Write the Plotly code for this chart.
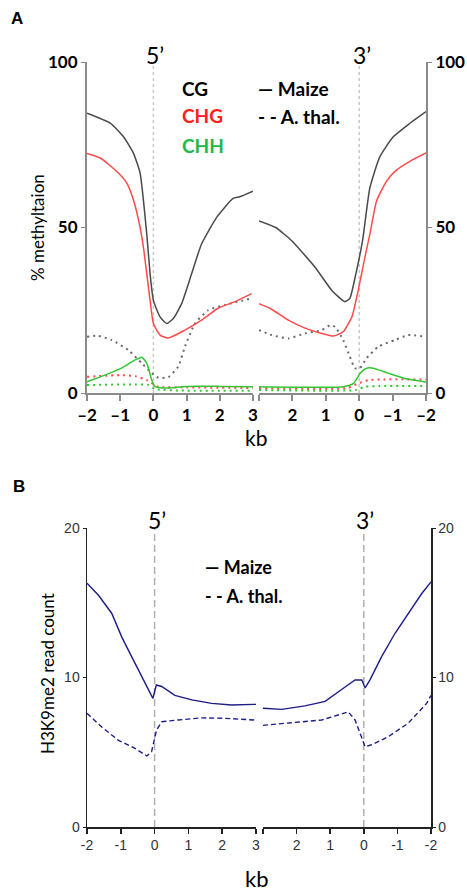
import plotly.graph_objects as go

W, H = 467, 891

# ---------------- Panel A: % methylation ----------------
# 5' side (kb relative to TSS, -2..3)
cg_maize_5_x = [-2, -1.3, -0.9, -0.6, -0.4, -0.2, -0.1, 0, 0.2, 0.4, 0.6, 0.85, 1.15, 1.45, 1.9, 2.4, 2.6, 3]
cg_maize_5_y = [84.5, 81.5, 77.4, 72.4, 66.4, 48, 36, 28, 23, 21, 22.5, 27, 36, 45, 53, 58.8, 59.3, 61]
chg_maize_5_x = [-2, -1.6, -1.1, -0.8, -0.6, -0.4, -0.3, -0.2, -0.1, 0, 0.2, 0.45, 0.95, 1.45, 1.95, 2.46, 2.96]
chg_maize_5_y = [72.4, 71, 66.9, 63.4, 58.3, 50, 44, 36, 28, 21, 17.5, 16.6, 19, 22, 25.6, 27.6, 30]
chh_maize_5_x = [-2, -1.46, -0.96, -0.55, -0.35, -0.2, -0.05, 0.05, 0.35, 1, 2, 3]
chh_maize_5_y = [3.4, 5.4, 7.5, 10, 10.8, 9, 3.9, 1.9, 1.5, 2, 2, 1.9]
cg_ath_5_x = [-2, -1.67, -1.26, -0.76, -0.35, -0.05, 0.15, 0.45, 0.75, 0.95, 1.25, 1.65, 2.16, 2.96]
cg_ath_5_y = [17, 17.3, 16, 13, 9, 6, 4.6, 4.8, 8, 14, 21, 25, 26.6, 28.6]
chg_ath_5_x = [-2, -1.0, -0.55, -0.2, 0.15, 1, 3]
chg_ath_5_y = [4.9, 5.4, 5.1, 3.9, 1.9, 1.7, 1.5]
chh_ath_5_x = [-2, -0.55, -0.15, 0.05, 1, 3]
chh_ath_5_y = [2.4, 2.6, 2.4, 1.2, 0.7, 0.7]

# 3' side (kb relative to TTS, 3..-2)
cg_maize_3_x = [3, 2.5, 2.02, 1.32, 0.82, 0.43, 0.28, 0.1, -0.1, -0.32, -0.62, -1.02, -1.52, -2]
cg_maize_3_y = [52, 50, 46, 38, 31, 27.6, 28.6, 36, 46, 62, 71.4, 77.4, 81.5, 85]
chg_maize_3_x = [3, 2.67, 2.12, 1.62, 1.12, 0.77, 0.48, 0.22, 0.03, -0.17, -0.32, -0.52, -0.82, -1.12, -1.52, -2]
chg_maize_3_y = [27, 25.6, 22, 19.6, 18, 17.2, 18.5, 23, 31, 41, 48, 58, 64, 67.4, 70, 72.5]
chh_maize_3_x = [3, 0.48, 0.17, -0.03, -0.22, -0.42, -0.87, -1.37, -2]
chh_maize_3_y = [1.9, 1.9, 2.9, 6, 7.5, 7.5, 6, 4.4, 3.3]
cg_ath_3_x = [3, 2.62, 2.12, 1.62, 1.12, 0.87, 0.72, 0.48, 0.28, 0.13, -0.02, -0.22, -0.57, -1.07, -1.47, -2]
cg_ath_3_y = [19, 17.5, 16.5, 18, 19, 20.5, 20, 16, 11, 7.5, 7.5, 10.5, 14, 16, 17.5, 17]
chg_ath_3_x = [3, 0.37, 0.03, -0.27, -0.67, -2]
chg_ath_3_y = [1.4, 1.5, 2.9, 3.9, 4.1, 4.1]
chh_ath_3_x = [3, 0.1, -0.17, -0.6, -2]
chh_ath_3_y = [0.9, 0.9, 1.9, 2.1, 2.1]

# ---------------- Panel B: H3K9me2 read count ----------------
h3_maize_5_x = [-2, -1.66, -1.27, -0.97, -0.68, -0.38, -0.05, 0.05, 0.21, 0.6, 1.1, 1.69, 2.28, 2.92, 3]
h3_maize_5_y = [16.3, 15.5, 14.3, 12.7, 11.4, 10.05, 8.6, 9.5, 9.4, 8.8, 8.5, 8.27, 8.16, 8.2, 8.2]
h3_ath_5_x = [-2, -1.57, -1.07, -0.58, -0.23, -0.09, 0.06, 0.21, 0.7, 1.39, 2.08, 2.87, 3]
h3_ath_5_y = [7.6, 6.7, 5.8, 5.26, 4.75, 5.04, 6.5, 7.04, 7.16, 7.3, 7.27, 7.16, 7.15]
h3_maize_3_x = [3, 2.44, 1.75, 1.15, 0.66, 0.26, 0.06, -0.04, -0.18, -0.53, -0.93, -1.32, -1.72, -2]
h3_maize_3_y = [7.94, 7.87, 8.1, 8.4, 9.2, 9.83, 9.83, 9.3, 9.83, 11.4, 12.96, 14.3, 15.6, 16.4]
h3_ath_3_x = [3, 2.25, 1.25, 0.46, 0.26, 0.11, -0.04, -0.23, -0.73, -1.32, -1.87, -2]
h3_ath_3_y = [6.8, 6.94, 7.16, 7.7, 7.16, 6.27, 5.37, 5.5, 6.04, 6.94, 8.27, 8.8]

# tick definitions
kb_5_ticks = [-2, -1, 0, 1, 2, 3]
kb_3_ticks = [3, 2, 1, 0, -1, -2]
kb_5_text_A = ["\u20132", "\u20131", "0", "1", "2", "3"]
kb_3_text_A = ["", "2", "1", "0", "\u20131", "\u20132"]
kb_5_text_B = ["-2", "-1", "0", "1", "2", "3"]
kb_3_text_B = ["", "2", "1", "0", "-1", "-2"]
methyl_ticks = [0, 50, 100]
read_ticks = [0, 10, 20]

C_CG = "#4a4a4a"
C_CHG = "#ff4a4a"
C_CHH = "#33c633"
C_DOT_CG = "#6a6a6a"
C_NAVY = "#1c1c85"
AX_A = "#8a8a8a"
AX_B = "#222222"

fig = go.Figure()


def add(x, y, xa, ya, color, dash="solid", width=1.5, shape="spline"):
    fig.add_trace(go.Scatter(x=x, y=y, xaxis=xa, yaxis=ya, mode="lines",
                             line=dict(color=color, dash=dash, width=width, shape=shape,
                                       smoothing=0.5),
                             showlegend=False, hoverinfo="skip"))


DOT = "2px,4px"
# Panel A 5'
add(cg_ath_5_x, cg_ath_5_y, "x", "y", C_DOT_CG, DOT, 2)
add(chg_ath_5_x, chg_ath_5_y, "x", "y", C_CHG, DOT, 2)
add(chh_ath_5_x, chh_ath_5_y, "x", "y", C_CHH, DOT, 2)
add(cg_maize_5_x, cg_maize_5_y, "x", "y", C_CG)
add(chg_maize_5_x, chg_maize_5_y, "x", "y", C_CHG)
add(chh_maize_5_x, chh_maize_5_y, "x", "y", C_CHH)
# Panel A 3'
add(cg_ath_3_x, cg_ath_3_y, "x2", "y2", C_DOT_CG, DOT, 2)
add(chg_ath_3_x, chg_ath_3_y, "x2", "y2", C_CHG, DOT, 2)
add(chh_ath_3_x, chh_ath_3_y, "x2", "y2", C_CHH, DOT, 2)
add(cg_maize_3_x, cg_maize_3_y, "x2", "y2", C_CG)
add(chg_maize_3_x, chg_maize_3_y, "x2", "y2", C_CHG)
add(chh_maize_3_x, chh_maize_3_y, "x2", "y2", C_CHH)
# Panel B
add(h3_maize_5_x, h3_maize_5_y, "x3", "y3", C_NAVY, "solid", 1.4, "linear")
add(h3_ath_5_x, h3_ath_5_y, "x3", "y3", C_NAVY, "5px,3px", 1.4, "linear")
add(h3_maize_3_x, h3_maize_3_y, "x4", "y4", C_NAVY, "solid", 1.4, "linear")
add(h3_ath_3_x, h3_ath_3_y, "x4", "y4", C_NAVY, "5px,3px", 1.4, "linear")


def px_x(p):
    return p / W


def px_y(p):
    return 1 - p / H


fontA_tick = dict(family="Lato", size=17, color="black", weight="bold")
fontB_tick = dict(family="Liberation Sans", size=14, color="#333333")

xcommon = dict(showgrid=False, zeroline=False, ticks="outside", fixedrange=True, automargin=False)

layout = dict(
    width=W, height=H, autosize=False,
    margin=dict(l=0, r=0, t=0, b=0, pad=0),
    paper_bgcolor="white", plot_bgcolor="white",
    showlegend=False,
    xaxis=dict(domain=[px_x(87), px_x(253)], range=[-2, 3], anchor="y",
               showline=True, linecolor=AX_A, linewidth=2, ticklen=6, tickwidth=2, tickcolor=AX_A,
               tickvals=kb_5_ticks, ticktext=kb_5_text_A, tickfont=fontA_tick, **xcommon),
    xaxis2=dict(domain=[px_x(259), px_x(426)], range=[3, -2], anchor="y2",
                showline=True, linecolor=AX_A, linewidth=2, ticklen=6, tickwidth=2, tickcolor=AX_A,
                tickvals=kb_3_ticks, ticktext=kb_3_text_A, tickfont=fontA_tick, **xcommon),
    yaxis=dict(domain=[px_y(393), px_y(62)], range=[0, 100], anchor="x",
               showline=True, linecolor=AX_A, linewidth=2, ticklen=4, tickwidth=1, tickcolor=AX_A,
               tickvals=methyl_ticks, tickfont=fontA_tick, **xcommon),
    yaxis2=dict(domain=[px_y(393), px_y(62)], range=[0, 100], anchor="x2", side="right",
                showline=True, linecolor=AX_A, linewidth=2, ticklen=4, tickwidth=1, tickcolor=AX_A,
                tickvals=methyl_ticks, tickfont=fontA_tick, **xcommon),
    xaxis3=dict(domain=[px_x(87), px_x(256)], range=[-2, 3], anchor="y3",
                showline=True, linecolor=AX_B, linewidth=1.5, ticklen=5, tickwidth=1.5, tickcolor=AX_B,
                tickvals=kb_5_ticks, ticktext=kb_5_text_B, tickfont=fontB_tick, **xcommon),
    xaxis4=dict(domain=[px_x(263), px_x(431)], range=[3, -2], anchor="y4",
                showline=True, linecolor=AX_B, linewidth=1.5, ticklen=5, tickwidth=1.5, tickcolor=AX_B,
                tickvals=kb_3_ticks, ticktext=kb_3_text_B, tickfont=fontB_tick, **xcommon),
    yaxis3=dict(domain=[px_y(827), px_y(528)], range=[0, 20], anchor="x3",
                showline=True, linecolor=AX_B, linewidth=1.5, ticklen=3, tickwidth=1, tickcolor=AX_B,
                tickvals=read_ticks, tickfont=fontB_tick, **xcommon),
    yaxis4=dict(domain=[px_y(827), px_y(528)], range=[0, 20], anchor="x4", side="right",
                showline=True, linecolor=AX_B, linewidth=1.5, ticklen=3, tickwidth=1, tickcolor=AX_B,
                tickvals=read_ticks, tickfont=fontB_tick, **xcommon),
)
fig.update_layout(**layout)

# reference lines at gene boundaries (kb = 0)
shapes = []
for xr, yr, top in [("x", "y", 100), ("x2", "y2", 100)]:
    shapes.append(dict(type="line", xref=xr, yref=yr, x0=0, x1=0, y0=0, y1=top,
                       line=dict(color="#c8c8c8", width=1.5, dash="3px,3px"), layer="below"))
for xr, yr, top in [("x3", "y3", 20), ("x4", "y4", 20)]:
    shapes.append(dict(type="line", xref=xr, yref=yr, x0=0, x1=0, y0=0, y1=top,
                       line=dict(color="#b0b0b0", width=1.5, dash="7px,4px"), layer="below"))
fig.update_layout(shapes=shapes)

anns = []


def ann(text, x, y, size, color="black", bold=False, family="Lato", xanchor="center",
        yanchor="middle", angle=0):
    anns.append(dict(text=text, x=px_x(x), y=px_y(y), xref="paper", yref="paper",
                     xanchor=xanchor, yanchor=yanchor, showarrow=False, textangle=angle,
                     font=dict(family=family, size=size, color=color,
                               weight="bold" if bold else "normal")))


# Panel labels
ann("A", 17, 18, 17, bold=True, family="Liberation Sans")
ann("B", 19, 487, 17, bold=True, family="Liberation Sans")
# 5' / 3'
ann("5\u2019", 155, 55, 23)
ann("3\u2019", 362, 55, 23)
ann("5\u2019", 157, 520, 23)
ann("3\u2019", 365, 520, 23)
# Panel A legend
ann("CG", 180, 88, 19, bold=True, xanchor="left")
ann("CHG", 180, 116, 19, color="#ff2020", bold=True, xanchor="left")
ann("CHH", 180, 145, 19, color="#1fb84a", bold=True, xanchor="left")
ann("\u2014 Maize", 256, 88, 19, bold=True, xanchor="left")
ann("- - A. thal.", 256, 117, 19, bold=True, xanchor="left")
# Panel B legend
ann("\u2014 Maize", 203, 567, 18, bold=True, xanchor="left")
ann("- - A. thal.", 203, 596, 18, bold=True, xanchor="left")
# axis titles
ann("% methyltaion", 38, 228, 17, angle=-90)
ann("kb", 256, 437, 21)
ann("H3K9me2 read count", 47, 674, 17, angle=-90)
ann("kb", 257, 878, 22)

fig.update_layout(annotations=anns)

fig.write_html("out.html",
               config={"displayModeBar": False, "staticPlot": True},
               post_script="document.body.style.margin='0';document.body.style.overflow='hidden';")
